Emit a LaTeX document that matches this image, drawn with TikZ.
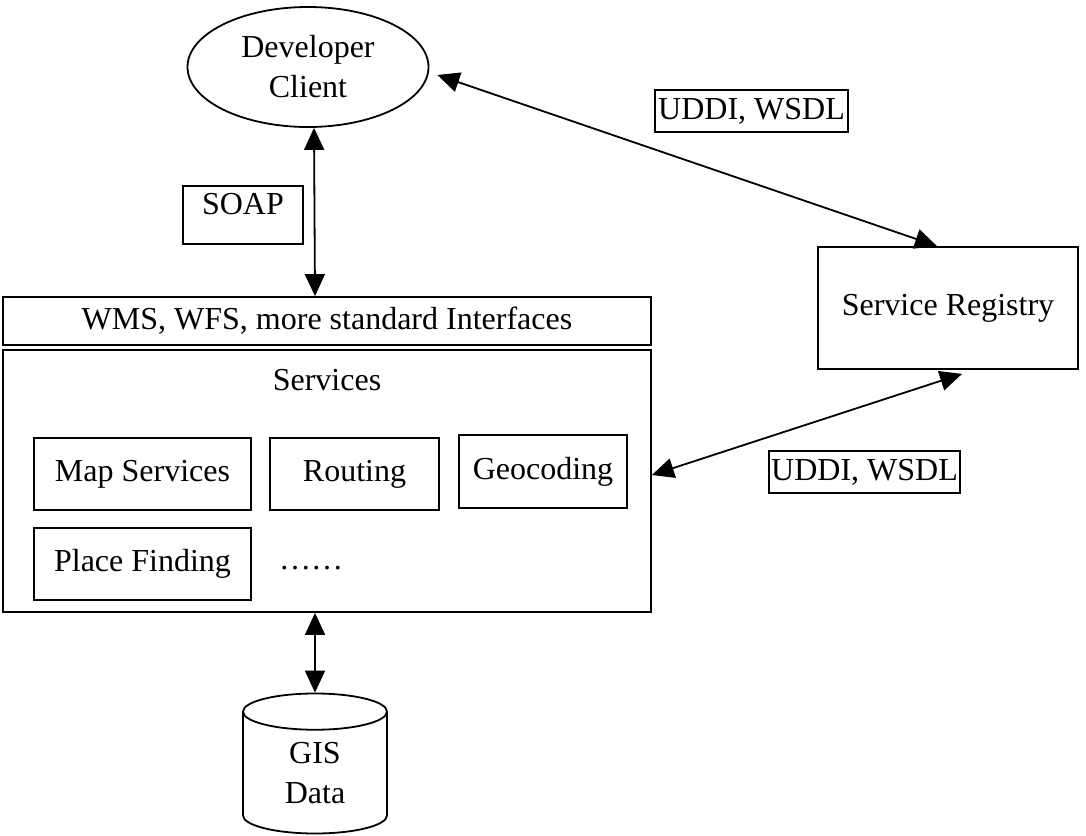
\documentclass[tikz,border=0pt]{standalone}
\usepackage{fontspec}
\setmainfont{Liberation Serif}
\usetikzlibrary{shapes.geometric,arrows.meta}
\begin{document}
\begin{tikzpicture}[x=1pt,y=-1pt,line width=1.8pt,
    font=\fontsize{32}{40}\selectfont,
    box/.style={draw,rectangle,inner sep=0pt},
    tag/.style={draw,rectangle,inner sep=0pt,line width=1.4pt},
    link/.style={{Triangle[length=22pt,width=20pt]}-{Triangle[length=22pt,width=20pt]}}]
  \useasboundingbox (0,0) rectangle (1086,835);
  \node[draw,ellipse,minimum width=241,minimum height=120,inner sep=0pt,align=center]
    (client) at (308,67) {Developer\\Client};
  \node[box,minimum width=648,minimum height=48] (iface) at (327,321)
    {WMS, WFS, more standard Interfaces};
  \node[box,minimum width=648,minimum height=262] (services) at (327,481) {};
  \node (srvtitle) at (327,380) {Services};
  \node[box,minimum width=217,minimum height=72] (map) at (142.5,474) {Map Services};
  \node[box,minimum width=169,minimum height=72] (routing) at (354.5,474) {Routing};
  \node[box,minimum width=168,minimum height=73] (geo) at (543,471.5) {Geocoding};
  \node[box,minimum width=217,minimum height=72] (place) at (142.5,564) {Place Finding};
  \node (more) at (311,568) {……};
  \node[draw,cylinder,shape border rotate=90,aspect=0.6,minimum width=144,
    minimum height=140,inner sep=0pt,align=center] (gis) at (315,773) {GIS\\Data};
  \node[box,minimum width=260,minimum height=122] (registry) at (948,308) {Service Registry};
  \node[tag,text height=22pt,text depth=24pt,minimum width=120,inner ysep=6pt]
    (soap) at (243,215) {SOAP};
  \node[tag,minimum width=193,minimum height=42] (uddia) at (751.5,111) {UDDI, WSDL};
  \node[tag,minimum width=191,minimum height=42] (uddib) at (864.5,472) {UDDI, WSDL};
  \draw[link] ([xshift=6pt]client.south) -- ([xshift=-12pt]iface.north);
  \draw[link] ([xshift=-12pt]services.south) -- (gis.north);
  \draw[link] ([xshift=8pt,yshift=-8pt]client.east) -- ([xshift=-11pt]registry.north);
  \draw[link] ([yshift=6pt]services.east) -- ([xshift=14pt,yshift=-4pt]registry.south);
\end{tikzpicture}
\end{document}
